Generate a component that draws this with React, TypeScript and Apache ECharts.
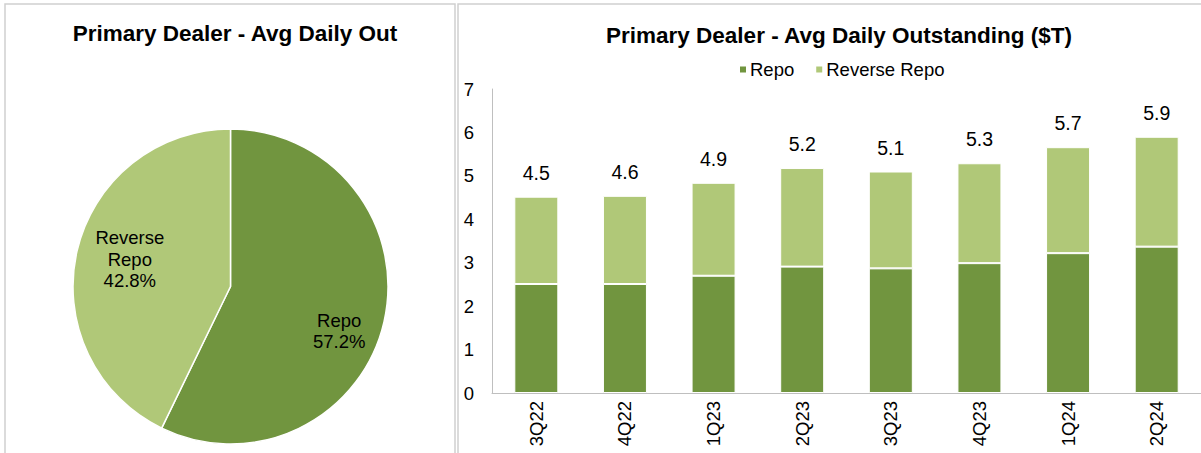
import React, { useEffect, useRef } from "react";
import * as echarts from "echarts";

const quarters = ["3Q22", "4Q22", "1Q23", "2Q23", "3Q23", "4Q23", "1Q24", "2Q24"];
const repo = [2.51, 2.51, 2.7, 2.91, 2.87, 2.99, 3.22, 3.37];
const reverseRepo = [2.01, 2.03, 2.14, 2.27, 2.23, 2.3, 2.44, 2.53];
const totalLabels = ["4.5", "4.6", "4.9", "5.2", "5.1", "5.3", "5.7", "5.9"];
const pieNames = ["Repo", "Reverse Repo"];
const pieShares = [57.2, 42.8];

const DARK = "#71953F";
const LIGHT = "#B0C878";
const FONT = "'Liberation Sans', Arial, sans-serif";

export default function App() {
  const ref = useRef<HTMLDivElement>(null);
  useEffect(() => {
    if (!ref.current) return;
    const chart = echarts.init(ref.current, undefined, { renderer: "svg" });
    const labelShift = [
      [29, 26],
      [-21, -9],
    ];
    chart.setOption({
      animation: false,
      textStyle: { fontFamily: FONT },
      title: [
        {
          text: "Primary Dealer - Avg Daily Out",
          left: 230,
          top: 17,
          textAlign: "center",
          textStyle: { fontFamily: FONT, fontSize: 22.5, fontWeight: "bold", color: "#000" },
        },
        {
          text: "Primary Dealer - Avg Daily Outstanding ($T)",
          left: 834,
          top: 19,
          textAlign: "center",
          textStyle: { fontFamily: FONT, fontSize: 22.5, fontWeight: "bold", color: "#000" },
        },
      ],
      legend: {
        data: ["Repo", "Reverse Repo"],
        left: 733,
        top: 55,
        icon: "rect",
        itemWidth: 8,
        itemHeight: 8,
        itemGap: 20,
        textStyle: { fontFamily: FONT, fontSize: 18.5, color: "#000", padding: [0, 0, 0, -2] },
      },
      grid: { left: 492, top: 89, width: 720, height: 304 },
      xAxis: {
        type: "category",
        data: quarters,
        axisLine: { lineStyle: { color: "#BFBFBF", width: 1 } },
        axisTick: { show: false },
        axisLabel: { rotate: 90, margin: 8, fontFamily: FONT, fontSize: 18.5, color: "#000" },
      },
      yAxis: {
        type: "value",
        min: 0,
        max: 7,
        interval: 1,
        axisLine: { show: true, lineStyle: { color: "#BFBFBF", width: 1 } },
        axisTick: { show: false },
        splitLine: { show: false },
        axisLabel: { margin: 18, fontFamily: FONT, fontSize: 18.5, color: "#000" },
      },
      graphic: [
        {
          type: "rect",
          shape: { x: 5, y: 4, width: 450, height: 470 },
          style: { fill: "none", stroke: "#D0D0D0", lineWidth: 1.5 },
          silent: true,
          z: -10,
        },
        {
          type: "rect",
          shape: { x: 458, y: 4, width: 760, height: 470 },
          style: { fill: "none", stroke: "#D0D0D0", lineWidth: 1.5 },
          silent: true,
          z: -10,
        },
      ],
      series: [
        {
          type: "pie",
          center: [230.5, 286.5],
          radius: 157.5,
          startAngle: 90,
          clockwise: true,
          silent: true,
          data: pieNames.map((n, i) => ({
            name: n,
            value: pieShares[i],
            itemStyle: { color: i === 0 ? DARK : LIGHT },
          })),
          itemStyle: { borderColor: "#fff", borderWidth: 1.5 },
          label: {
            position: "inside",
            fontFamily: FONT,
            fontSize: 18.5,
            lineHeight: 21.5,
            color: "#000",
            formatter: (p: any) =>
              p.name.replace(" ", "\n") + "\n" + Number(p.value).toFixed(1) + "%",
          },
          labelLine: { show: false },
          labelLayout: (p: any) => ({ dx: labelShift[p.dataIndex][0], dy: labelShift[p.dataIndex][1] }),
        },
        {
          name: "Repo",
          type: "bar",
          stack: "total",
          barWidth: 44,
          data: repo,
          itemStyle: { color: DARK, borderColor: "#fff", borderWidth: 1 },
        },
        {
          name: "Reverse Repo",
          type: "bar",
          stack: "total",
          barWidth: 44,
          data: reverseRepo,
          itemStyle: { color: LIGHT, borderColor: "#fff", borderWidth: 1 },
          label: {
            show: true,
            position: "top",
            distance: 14,
            fontFamily: FONT,
            fontSize: 19.5,
            color: "#000",
            formatter: (p: any) => totalLabels[p.dataIndex],
          },
        },
      ],
    });
    return () => chart.dispose();
  }, []);
  return (
    <div
      ref={ref}
      style={{ position: "fixed", left: 0, top: 0, width: 1201, height: 453, background: "#fff" }}
    />
  );
}
